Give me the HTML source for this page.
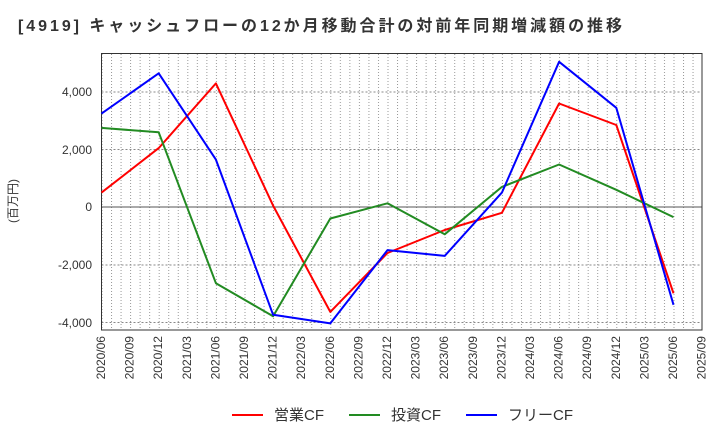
<!DOCTYPE html>
<html><head><meta charset="utf-8"><style>
body{margin:0;background:#fff}
svg{display:block;font-family:"Liberation Sans","Noto Sans CJK JP",sans-serif}
</style></head><body>
<svg width="720" height="440" viewBox="0 0 720 440">
<rect width="720" height="440" fill="#fff"/>
<text x="18" y="31" font-size="16" font-weight="bold" fill="#333" textLength="604" lengthAdjust="spacing">[4919]  キャッシュフローの12か月移動合計の対前年同期増減額の推移</text>
<defs>
<pattern id="vg" x="101.5" y="0" width="9.533" height="440" patternUnits="userSpaceOnUse">
<line x1="0.5" y1="0" x2="0.5" y2="440" stroke="#999" stroke-width="1" stroke-dasharray="1,2"/>
</pattern>
</defs>
<rect x="102" y="53" width="600" height="277" fill="url(#vg)"/>
<g stroke="#888" stroke-width="1" stroke-dasharray="2,2">
<line x1="101.5" y1="92" x2="702" y2="92"/>
<line x1="101.5" y1="149.5" x2="702" y2="149.5"/>
<line x1="101.5" y1="265" x2="702" y2="265"/>
<line x1="101.5" y1="322.5" x2="702" y2="322.5"/>
</g>
<line x1="101.5" y1="207" x2="702" y2="207" stroke="#555" stroke-width="1"/>
<rect x="101.5" y="53.5" width="600.5" height="276.5" fill="none" stroke="#333" stroke-width="1"/>
<g font-size="12" fill="#333" text-anchor="end">
<text x="92" y="96">4,000</text>
<text x="92" y="154">2,000</text>
<text x="92" y="211">0</text>
<text x="92" y="269">-2,000</text>
<text x="92" y="327">-4,000</text>
</g>
<text transform="translate(17,201) rotate(-90)" font-size="12" fill="#333" text-anchor="middle">(百万円)</text>
<g font-size="12" fill="#333" text-anchor="end">
<text transform="translate(105,336) rotate(-90)">2020/06</text>
<text transform="translate(133.6,336) rotate(-90)">2020/09</text>
<text transform="translate(162.2,336) rotate(-90)">2020/12</text>
<text transform="translate(190.8,336) rotate(-90)">2021/03</text>
<text transform="translate(219.4,336) rotate(-90)">2021/06</text>
<text transform="translate(248,336) rotate(-90)">2021/09</text>
<text transform="translate(276.6,336) rotate(-90)">2021/12</text>
<text transform="translate(305.2,336) rotate(-90)">2022/03</text>
<text transform="translate(333.8,336) rotate(-90)">2022/06</text>
<text transform="translate(362.4,336) rotate(-90)">2022/09</text>
<text transform="translate(391,336) rotate(-90)">2022/12</text>
<text transform="translate(419.6,336) rotate(-90)">2023/03</text>
<text transform="translate(448.2,336) rotate(-90)">2023/06</text>
<text transform="translate(476.8,336) rotate(-90)">2023/09</text>
<text transform="translate(505.4,336) rotate(-90)">2023/12</text>
<text transform="translate(534,336) rotate(-90)">2024/03</text>
<text transform="translate(562.6,336) rotate(-90)">2024/06</text>
<text transform="translate(591.2,336) rotate(-90)">2024/09</text>
<text transform="translate(619.8,336) rotate(-90)">2024/12</text>
<text transform="translate(648.4,336) rotate(-90)">2025/03</text>
<text transform="translate(677,336) rotate(-90)">2025/06</text>
<text transform="translate(705.6,336) rotate(-90)">2025/09</text>
</g>
<g fill="none" stroke-width="2" stroke-linejoin="round">
<polyline stroke="#ff0000" points="101.5,192.6 158.7,148.1 215.9,83.4 273.1,205.6 330.3,311.9 387.5,253 444.7,230 501.9,212.8 559.1,103.5 616.3,125 673.5,293.3"/>
<polyline stroke="#228b22" points="101.5,127.9 158.7,132.3 215.9,283.2 273.1,316.3 330.3,218.5 387.5,203.3 444.7,234.3 501.9,186.9 559.1,164.5 616.3,189.8 673.5,217.1"/>
<polyline stroke="#0000ff" points="101.5,113.6 158.7,73.3 215.9,159.6 273.1,314.8 330.3,323.4 387.5,250.1 444.7,255.9 501.9,192.6 559.1,61.8 616.3,107.8 673.5,304.8"/>
</g>
<g font-size="15" fill="#333">
<line x1="232" y1="415" x2="263" y2="415" stroke="#ff0000" stroke-width="2"/>
<text x="274" y="420">営業CF</text>
<line x1="349" y1="415" x2="380" y2="415" stroke="#228b22" stroke-width="2"/>
<text x="391" y="420">投資CF</text>
<line x1="466" y1="415" x2="497" y2="415" stroke="#0000ff" stroke-width="2"/>
<text x="508" y="420">フリーCF</text>
</g>
</svg>
</body></html>
